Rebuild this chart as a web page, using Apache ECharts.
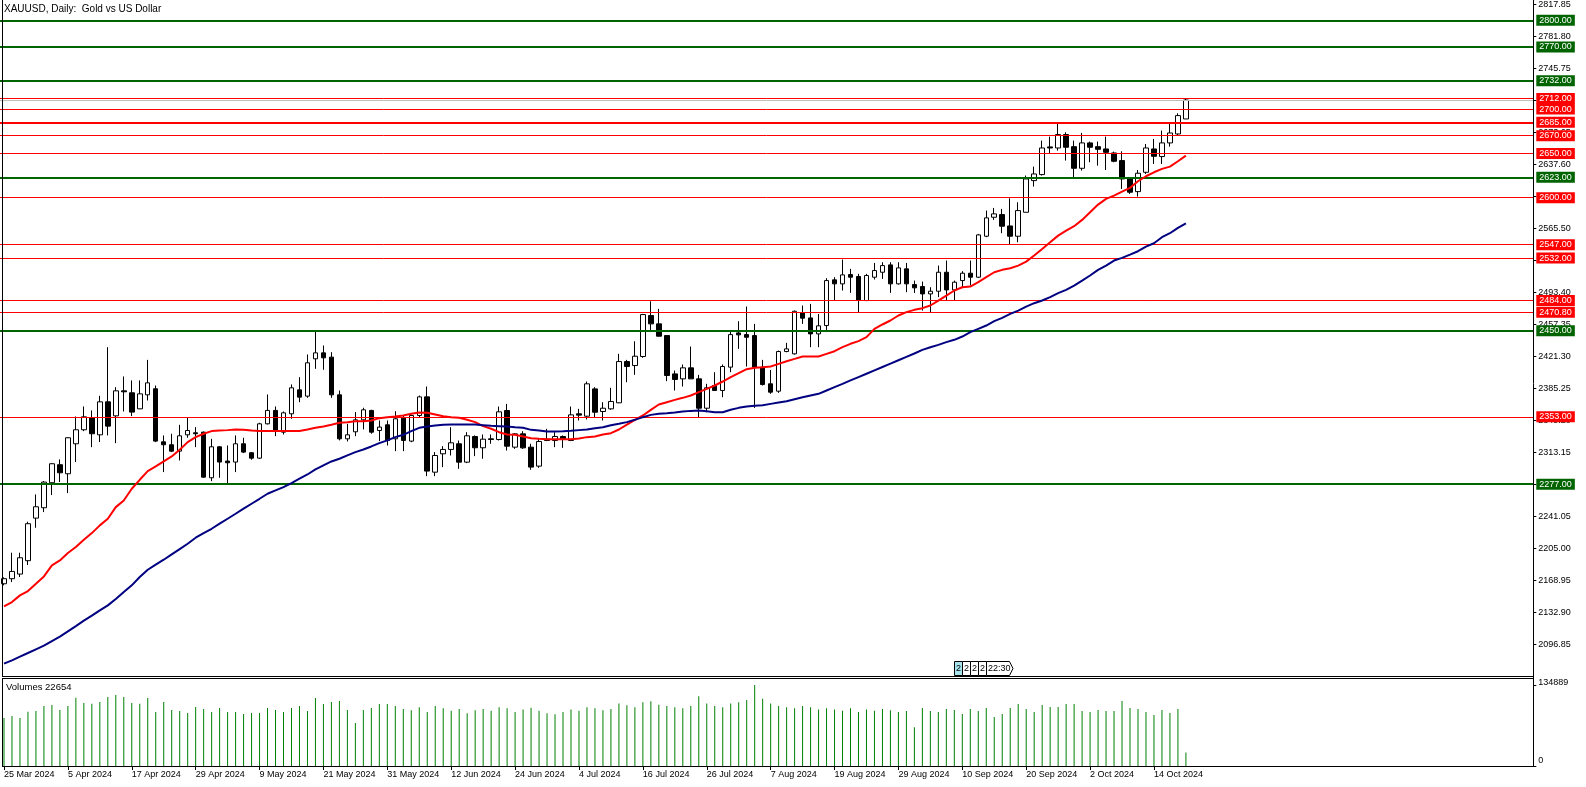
<!DOCTYPE html>
<html><head><meta charset="utf-8">
<script src="https://cdn.jsdelivr.net/npm/echarts@6/dist/echarts.min.js"></script>
<style>html,body{margin:0;padding:0;background:#fff;overflow:hidden}#c{width:1586px;height:787px}</style>
</head><body><div id="c"></div>
<script>
const titleText = 'XAUUSD, Daily:  Gold vs US Dollar';
const volumeTitle = 'Volumes 22654';
const dateLabels = ['25 Mar 2024','5 Apr 2024','17 Apr 2024','29 Apr 2024','9 May 2024','21 May 2024','31 May 2024','12 Jun 2024','24 Jun 2024','4 Jul 2024','16 Jul 2024','26 Jul 2024','7 Aug 2024','19 Aug 2024','29 Aug 2024','10 Sep 2024','20 Sep 2024','2 Oct 2024','14 Oct 2024'];
const priceTicks = [2096.85,2132.90,2168.95,2205.00,2241.05,2277.10,2313.15,2349.20,2385.25,2421.30,2457.35,2493.40,2529.45,2565.50,2601.55,2637.60,2673.65,2709.70,2745.75,2781.80,2817.85];
const volumeTicks = [0, 134889];

const open  = [2164.8,2170.5,2175.7,2190.8,2238.8,2250.5,2278.7,2299,2288.8,2322.6,2338.4,2351.9,2332.7,2369.9,2354.1,2382.3,2380.1,2362,2377.8,2384.6,2324.8,2321.5,2314.3,2332.7,2335,2335.7,2284.3,2319.2,2303.1,2302,2322.6,2312.5,2306.4,2345.1,2360.2,2335.7,2356.4,2383.4,2376.3,2418.4,2425.1,2420.3,2377.8,2328.2,2336.1,2349.6,2360.2,2337.6,2344,2328.2,2351.5,2325.6,2354.5,2375.5,2290.6,2311.3,2316.2,2322.6,2301.9,2330.8,2318.1,2328.2,2327.4,2360.1,2318.8,2333.8,2318.8,2297.4,2327.8,2326.3,2330.8,2326.3,2356.4,2353.7,2384.5,2359,2362,2368.8,2415.3,2410.8,2421,2467.2,2457.8,2444.6,2401.4,2395.8,2408.2,2395.8,2362.7,2388.3,2382.7,2409,2447.6,2445.7,2444.6,2409,2390.2,2381.9,2426.6,2424,2470.2,2464.5,2446.5,2455.9,2507.4,2502.9,2513.4,2511.2,2484.1,2510.4,2516,2524.3,2502.9,2519.8,2502.1,2499.9,2491.6,2494.6,2516,2496.1,2506.6,2514.9,2510.4,2556.6,2578,2581,2568.2,2556.6,2583.6,2619.3,2626.1,2657.3,2656.1,2671.2,2657.6,2633.2,2661.8,2657.6,2655,2650.5,2641.9,2621.9,2606.9,2628.7,2655,2646.4,2661.8,2671.9,2688.8];
const high  = [2172,2199.8,2199.8,2234.7,2265.5,2280.5,2300.8,2305,2330.1,2353.4,2364.7,2360.2,2376.7,2431.5,2386.4,2398.5,2394,2394,2417.2,2388.3,2332,2333.9,2344,2351.9,2341.4,2336.5,2328.2,2320,2320.7,2332,2329.4,2313.2,2346.3,2378.2,2364.7,2359,2389.5,2397.7,2423.3,2450,2433.4,2425.9,2382.7,2345.1,2358.3,2363.2,2360.9,2348.9,2348.9,2359.4,2354.5,2355.2,2377,2387.2,2313.2,2319.9,2341.3,2326.3,2335.7,2332,2333.1,2333.1,2364.6,2367.6,2334.6,2336.8,2322.6,2328.2,2339.5,2335.7,2332,2364.6,2362,2392.8,2386.4,2369.5,2385.7,2424,2417.2,2438.2,2469,2483.3,2474.7,2444.6,2405.2,2412,2432.2,2400.3,2390.2,2403.3,2412,2450.3,2460.8,2477.3,2457.8,2417.2,2405.9,2427.7,2436.4,2472.8,2478.4,2480.3,2469,2509.3,2510.4,2530.3,2519.8,2514.2,2514.2,2526.5,2527.3,2527.3,2527.3,2526.5,2506.6,2505.5,2499.1,2523.5,2529.2,2506.6,2517.2,2529.2,2559.2,2585.5,2588.5,2587.4,2599.4,2594.9,2625,2635.1,2664.4,2668.9,2683.9,2673.8,2664.4,2673,2663.3,2663.3,2668.9,2652,2652.4,2623.1,2631.3,2660.6,2666.3,2675.7,2683.9,2695.2,2711.3];
const low   = [2163,2166.7,2172.4,2185.9,2227.9,2245.6,2264.8,2279.4,2267,2302,2336.9,2318.8,2324.5,2332,2323.3,2359,2353.8,2361.7,2371.4,2324.5,2290.7,2313.2,2303.8,2329.4,2318.8,2284.3,2280.5,2284.3,2277.5,2290.7,2312.1,2304.6,2305.7,2344.4,2331.2,2333.1,2350.8,2369.5,2374.4,2407.1,2406,2374.4,2326.4,2325.2,2331.2,2338.8,2333.9,2325.6,2320.7,2314.3,2314.3,2324.4,2352.6,2286.1,2286.1,2296.3,2309.4,2294.4,2300.8,2308.7,2305.7,2322.6,2326.3,2315,2316.9,2316.9,2293.3,2295.5,2325.6,2318.8,2318,2325.6,2348.9,2350,2351.9,2348.9,2360.9,2368.4,2392,2400.3,2419.5,2451,2443.5,2393.2,2382.7,2387.2,2395.8,2352.6,2358.2,2382.7,2375.1,2403.3,2429.6,2409.7,2363.1,2388.3,2378.9,2380,2425.8,2423.2,2457.8,2431.5,2431.5,2451,2484.1,2495.4,2492.7,2470.2,2483.4,2507.8,2508.5,2492.7,2502.1,2493.5,2492.7,2472.8,2471,2487.9,2484.1,2484.1,2499.1,2501,2509.7,2555.5,2575,2560,2547.2,2549.8,2583.6,2612.6,2625,2650.1,2653.1,2641.9,2623.1,2630.6,2640,2636.2,2631.3,2640,2609.9,2604.3,2601.3,2626.8,2638.1,2638.1,2657.6,2670,2688.8];
const close = [2170.5,2178.7,2194.1,2232.5,2251.6,2279.4,2300.1,2289.9,2329.4,2338.4,2353,2333.9,2369.9,2342.5,2382.3,2381.2,2358.3,2378.9,2391.3,2325.6,2321.5,2314.3,2331.6,2337.6,2333.9,2285,2319.2,2302,2301.2,2322.6,2313.2,2306.4,2345.1,2360.2,2336.5,2357.5,2385.7,2375.2,2413.9,2425.1,2419.5,2377.8,2328.2,2332.7,2349.6,2360.9,2335.7,2341.4,2326.3,2350.8,2326.4,2354.5,2375.5,2291.8,2309.4,2316.2,2323.7,2301.9,2331.6,2318.1,2327.8,2327.4,2358.6,2319.9,2333.8,2318,2296.3,2325.2,2326.3,2330.8,2328.2,2355.2,2354.9,2390.2,2358.2,2362.7,2370.3,2415.3,2409.7,2421.3,2468.3,2457.8,2443.9,2399.6,2395.1,2408.2,2395.8,2362.7,2385.7,2382.7,2409.7,2445.7,2445.4,2442.7,2409,2389.4,2380.8,2426.6,2429.6,2472,2464.2,2446.5,2455.6,2506.6,2502.9,2513,2510.4,2484.1,2512.3,2517.9,2523.5,2502.9,2520.9,2502.9,2498.4,2491.6,2494.6,2516,2496.1,2504.8,2514.9,2510.4,2558.1,2577.3,2581.8,2567.9,2556.6,2585.5,2621.2,2626.8,2656.1,2656.1,2671.2,2656.9,2633.2,2661.8,2656.9,2654.6,2651.2,2641.1,2621.2,2606.2,2627.6,2656.1,2646.7,2661.8,2673,2692.6,2710.2];

const maRed = [2139.3,2144.2,2151.7,2156.6,2164.8,2173.1,2185.5,2191.1,2199.4,2206.2,2214.4,2221.9,2230.6,2238.1,2251.2,2258.7,2271.9,2282,2291.8,2297.1,2302.7,2308.3,2315.8,2324.5,2330.1,2333.9,2336.9,2337.6,2338,2338.7,2338.4,2337.6,2336.9,2336.9,2336.9,2336.9,2336.9,2336.9,2338.7,2340.6,2342.1,2344,2346.3,2347,2348.1,2348.1,2348.9,2351.5,2352.6,2353.4,2354.5,2356.4,2357.9,2357.5,2355.6,2353.7,2352.6,2351.9,2349.6,2347,2342.5,2339.5,2335.7,2333.1,2332.7,2330.8,2328.9,2328.2,2327.8,2327.8,2327.8,2327.8,2328.6,2330.1,2330.8,2333.1,2334.6,2338.7,2344.3,2349.6,2354.5,2360.9,2366.9,2369.5,2372.1,2374.4,2377,2380.8,2384.5,2388.3,2392.8,2397.7,2402.2,2406.7,2408.2,2408.9,2409.7,2412.7,2415.7,2418.3,2421,2421,2421,2424,2427,2431.5,2435.3,2438.3,2442.8,2452.2,2457.1,2461.6,2467.2,2471,2473.6,2475.5,2478.5,2484.1,2489.7,2495.4,2499.1,2499.9,2504.8,2510.4,2516,2518.7,2520.5,2523.5,2528,2534.8,2542.3,2549.8,2557.3,2563,2567.9,2575,2583.6,2592.3,2598.7,2602.4,2606.9,2611.1,2618.6,2624.2,2628.7,2632.5,2635.1,2641.1,2647.5];
const maBlue = [2074.7,2078.5,2082.6,2086.7,2090.9,2095,2100.2,2105.1,2111.1,2117.1,2123.2,2128.8,2134.8,2140.4,2147.6,2155.5,2163,2172.4,2180.6,2186.3,2191.9,2197.9,2203.9,2209.9,2216.7,2221.9,2226.8,2232.5,2238.1,2243.7,2249.4,2255,2260.6,2266.3,2270,2273.8,2278.3,2283.2,2288,2293.7,2298.2,2302.7,2305.7,2309.5,2313.2,2316.2,2319.6,2323.3,2326.4,2330.1,2332.7,2336.8,2340.6,2342.1,2343.2,2344,2344.3,2344.3,2344.3,2344.3,2343.6,2342.8,2342.5,2342.1,2341.3,2340.6,2338.3,2337.6,2336.5,2336.5,2336.8,2337.2,2338,2338.7,2340.2,2341.3,2343.6,2345.1,2347,2349.6,2352.6,2355.2,2356.4,2357.1,2357.9,2359,2359.7,2360.1,2359.4,2358.2,2358.2,2360.9,2363.1,2364.6,2365.4,2366.1,2367.6,2369.1,2370.6,2372.9,2375.1,2377,2378.9,2382.7,2386.5,2390.2,2394,2397.8,2401.6,2405.4,2409.2,2413,2416.8,2420.6,2424.4,2428.5,2431.5,2434.1,2437.2,2439.8,2443.5,2448.4,2452.2,2455.9,2460.8,2464.6,2469.1,2472.8,2477.3,2481.1,2484.1,2487.9,2492.4,2496.1,2501,2506.6,2512.3,2518.7,2523.5,2529.2,2532.2,2535.9,2539.7,2544.9,2548.7,2555.5,2560,2566,2571.2];

const volumes = [80000,83250,79920,90410,91580,99900,101570,93240,99900,113720,104900,103730,106560,114890,118220,114890,104900,103730,113220,89910,106560,93240,91580,88250,98240,94910,89910,96570,89910,89910,86580,88250,88250,96570,93240,89910,96570,99900,91580,113220,103230,106560,108230,93240,71600,93240,96570,103230,103230,99900,
 95000,93000,98000,90000,100000,96000,92000,95000,88000,93000,95000,92000,98000,96000,90000,94000,97000,92000,88000,86000,90000,94000,92000,98000,96000,93000,95000,104000,101000,98000,106000,108000,102000,100000,98000,96000,100000,116000,104000,100000,98000,104000,106000,110000,134889,112000,104000,100000,98000,96000,100000,98000,94000,96000,94000,92000,96000,90000,94000,92000,95000,93000,90000,
 91580,64440,96570,91580,89910,94910,93240,86580,94910,91580,96570,81590,86580,96570,103230,94910,89910,101570,98240,98240,103230,103230,91580,89910,93240,91580,91580,108230,96570,94910,89910,84920,93240,88250,94910,22654];

const greenLevels = [2800, 2770, 2732, 2623, 2450, 2277];
const redLevels = [2712, 2700, 2685, 2670, 2650, 2600, 2547, 2532, 2484, 2470.80, 2353];
const thickRedLevels = [2685];

const SLOTS = 192;
const cats = Array.from({length: SLOTS}, (_, i) => String(i));
const FONT = 'Liberation Sans, Arial, sans-serif';
const GREEN = '#006400', RED = '#ff0000';

const candleData = open.map((o, i) => [o, close[i], low[i], high[i]]);
const labelIdx = i => i % 8 === 0 && i / 8 < dateLabels.length;

const levelLines = [
  {yAxis: close[close.length - 1], lineStyle: {color: '#c0c0c0', width: 1, type: 'solid'}, label: {show: false}}
].concat(redLevels.map(v => ({
  yAxis: v,
  lineStyle: {color: RED, width: thickRedLevels.includes(v) ? 2 : 1, type: 'solid'},
  label: {backgroundColor: RED}
}))).concat(greenLevels.map(v => ({
  yAxis: v,
  lineStyle: {color: GREEN, width: 2, type: 'solid'},
  label: {backgroundColor: GREEN}
})));

const chart = echarts.init(document.getElementById('c'), null, {renderer: 'canvas'});
const L = -1.7, W = 1535;
const frame = [
  [2.5, 0, 2.5, 676], [2, 676.5, 1534, 676.5], [2, 678.5, 1534, 678.5],
  [2.5, 678, 2.5, 767], [2, 766.5, 1534, 766.5], [1533.5, 0, 1533.5, 767]
];
const graphics = frame.map(f => ({type: 'line', silent: true, z: 50,
  shape: {x1: f[0], y1: f[1], x2: f[2], y2: f[3]}, style: {stroke: '#000', lineWidth: 1}}));
graphics.push({type: 'text', left: 4, top: 4, z: 60, style: {text: titleText, font: '10px ' + FONT, fill: '#000'}});
graphics.push({type: 'text', left: 6, top: 682, z: 60, style: {text: volumeTitle, font: '9.5px ' + FONT, fill: '#000'}});
// event flags
const flagTexts = ['2', '2', '2', '2'];
flagTexts.forEach((t, i) => {
  graphics.push({type: 'rect', z: 55, shape: {x: 954.5 + i * 8, y: 661.5, width: 8, height: 14},
    style: {fill: i === 0 ? '#a6e3ec' : '#fff', stroke: '#000', lineWidth: 1}});
  graphics.push({type: 'text', z: 56, x: 956 + i * 8, y: 664, style: {text: t, font: '9px ' + FONT, fill: '#000'}});
});
graphics.push({type: 'polygon', z: 55, shape: {points: [[986.5, 661.5], [1009.5, 661.5], [1013, 668.5], [1009.5, 675.5], [986.5, 675.5]]},
  style: {fill: '#fff', stroke: '#000', lineWidth: 1}});
graphics.push({type: 'text', z: 56, x: 988, y: 664, style: {text: '22:30', font: '9px ' + FONT, fill: '#000'}});

chart.setOption({
  animation: false,
  backgroundColor: '#fff',
  grid: [
    {left: L, width: W, top: 2, height: 674},
    {left: L, width: W, top: 685, height: 81}
  ],
  xAxis: [
    {type: 'category', gridIndex: 0, data: cats, show: false, boundaryGap: true},
    {type: 'category', gridIndex: 1, data: cats, boundaryGap: true,
     axisLine: {show: false},
     axisTick: {show: true, alignWithLabel: true, interval: labelIdx, length: 4, lineStyle: {color: '#000'}},
     axisLabel: {show: true, interval: labelIdx, align: 'left', margin: 4, color: '#000', fontSize: 9, fontFamily: FONT,
       formatter: (v, i) => dateLabels[Math.round(Number(v) / 8)] || ''},
     splitLine: {show: false}}
  ],
  yAxis: [
    {type: 'value', gridIndex: 0, position: 'right', min: 2060.80, max: 2819.0, scale: true,
     axisLine: {show: false}, splitLine: {show: false},
     axisTick: {show: true, length: 3, lineStyle: {color: '#000'}, customValues: priceTicks},
     axisLabel: {show: true, customValues: priceTicks, margin: 5, color: '#000', fontSize: 9, fontFamily: FONT,
       padding: [4, 0, 0, 0], formatter: v => Number(v).toFixed(2)}},
    {type: 'value', gridIndex: 1, position: 'right', min: 0, max: 134889,
     axisLine: {show: false}, splitLine: {show: false},
     axisTick: {show: true, length: 3, lineStyle: {color: '#000'}, customValues: volumeTicks},
     axisLabel: {show: true, customValues: volumeTicks, margin: 5, color: '#000', fontSize: 9, fontFamily: FONT,
       verticalAlign: 'middle',
       formatter: v => (Math.round(v) === 0 ? '{b|0}' : '{t|' + Math.round(v) + '}'),
       rich: {t: {fontSize: 9, fontFamily: FONT, color: '#000', padding: [0, 0, 4, 0]},
              b: {fontSize: 9, fontFamily: FONT, color: '#000', padding: [0, 0, 10, 0]}}}}
  ],
  series: [
    {type: 'candlestick', xAxisIndex: 0, yAxisIndex: 0, data: candleData, barWidth: 5,
     itemStyle: {color: '#fff', color0: '#000', borderColor: '#000', borderColor0: '#000', borderWidth: 1},
     markLine: {silent: true, symbol: ['none', 'none'], animation: false, z: 3,
       label: {show: true, position: 'end', distance: 3, color: '#fff', fontSize: 9, fontFamily: FONT,
         padding: [1, 3, 1, 3], lineHeight: 9, formatter: p => Number(p.value).toFixed(2)},
       data: levelLines}},
    {type: 'line', xAxisIndex: 0, yAxisIndex: 0, data: maRed, showSymbol: false, symbol: 'none', z: 4,
     lineStyle: {color: RED, width: 2}},
    {type: 'line', xAxisIndex: 0, yAxisIndex: 0, data: maBlue, showSymbol: false, symbol: 'none', z: 4,
     lineStyle: {color: '#000080', width: 2}},
    {type: 'bar', xAxisIndex: 1, yAxisIndex: 1, data: volumes, barWidth: 1, itemStyle: {color: '#008000'}}
  ],
  graphic: graphics
});
</script></body></html>
